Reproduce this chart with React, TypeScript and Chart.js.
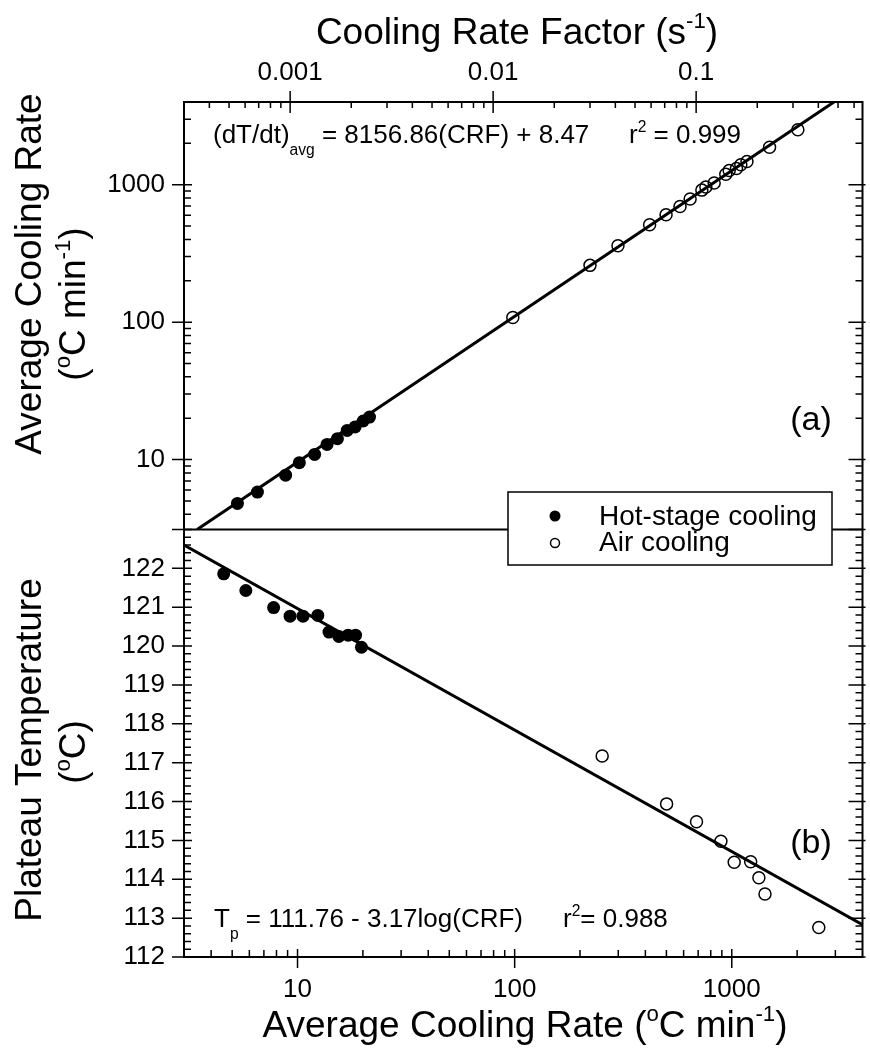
import React, { useEffect, useRef } from 'react';
import { Chart, registerables } from 'chart.js';

Chart.register(...registerables);

const FONT = "'Liberation Sans', Arial, Helvetica, sans-serif";

// ---------- Panel (a): Cooling Rate Factor (s^-1) vs Average Cooling Rate ----------
const hotCRF = [0.00055, 0.00069, 0.00095, 0.00111, 0.00132, 0.00152, 0.00171, 0.00191, 0.00209, 0.00229, 0.00246];
const hotRateA = [4.8, 5.8, 7.7, 9.5, 10.9, 12.9, 14.2, 16.3, 17.3, 19.1, 20.4];
const airCRF = [0.0125, 0.030, 0.0412, 0.059, 0.0711, 0.0833, 0.0934, 0.1067, 0.1117, 0.1227, 0.140, 0.1455, 0.158, 0.166, 0.178, 0.230, 0.317];
const airRateA = [108, 259, 360, 512, 605, 695, 788, 914, 962, 1029, 1192, 1271, 1312, 1399, 1478, 1875, 2514];
const fitACRF = [0.000348, 0.4775];
const fitARate = [3.1, 4000];

// ---------- Panel (b): Average Cooling Rate vs Plateau Temperature ----------
const hotRateB = [4.57, 5.78, 7.76, 9.24, 10.6, 12.4, 13.96, 15.5, 17.1, 18.5, 19.7];
const hotTp = [121.86, 121.43, 120.99, 120.77, 120.77, 120.79, 120.36, 120.25, 120.28, 120.28, 119.97];
const airRateB = [253, 501, 688, 891, 1026, 1222, 1333, 1422, 2516];
const airTp = [117.17, 115.94, 115.48, 114.98, 114.44, 114.45, 114.04, 113.62, 112.76];
const fitBRate = [3, 4000];
const fitBTp = [122.6, 112.83];

// ---------- Axis ticks ----------
const xTicks = [10, 100, 1000];
const x2Ticks = [0.001, 0.01, 0.1];
const x2Labels = ['0.001', '0.01', '0.1'];
const yATicks = [10, 100, 1000];
const yBTicks = [112, 113, 114, 115, 116, 117, 118, 119, 120, 121, 122];

const xRange = [3, 4000];
const x2Range = [0.0003, 0.66];
const yARange = [3.1, 4000];
const yBRange = [112, 123];

type Part = { t: string; k?: 'sup' | 'sub' };
const n = (t: string): Part => ({ t });
const sup = (t: string): Part => ({ t, k: 'sup' });
const sub = (t: string): Part => ({ t, k: 'sub' });

function fontFor(size: number, k?: string) {
  const s = k ? size * 0.6 : size;
  return `${s}px ${FONT}`;
}
function partsWidth(ctx: CanvasRenderingContext2D, parts: Part[], size: number) {
  let w = 0;
  for (const p of parts) {
    ctx.font = fontFor(size, p.k);
    w += ctx.measureText(p.t).width;
  }
  return w;
}
function drawRich(ctx: CanvasRenderingContext2D, parts: Part[], x: number, y: number, size: number, align: 'left' | 'center') {
  const w = partsWidth(ctx, parts, size);
  let cx = align === 'center' ? x - w / 2 : x;
  ctx.textAlign = 'left';
  ctx.textBaseline = 'alphabetic';
  for (const p of parts) {
    ctx.font = fontFor(size, p.k);
    const dy = p.k === 'sup' ? -size * 0.42 : p.k === 'sub' ? size * 0.47 : 0;
    ctx.fillText(p.t, cx, y + dy);
    cx += ctx.measureText(p.t).width;
  }
}
function drawRotated(ctx: CanvasRenderingContext2D, parts: Part[], xc: number, yc: number, size: number) {
  ctx.save();
  ctx.translate(xc, yc);
  ctx.rotate(-Math.PI / 2);
  drawRich(ctx, parts, 0, size * 0.36, size, 'center');
  ctx.restore();
}

function logMarks(min: number, max: number) {
  const out: { v: number; major: boolean }[] = [];
  for (let d = Math.floor(Math.log10(min)); d <= Math.ceil(Math.log10(max)); d++) {
    for (let m = 1; m <= 9; m++) {
      const v = m * Math.pow(10, d);
      if (v > min * 1.0001 && v < max * 0.9999) out.push({ v, major: m === 1 });
    }
  }
  return out;
}
function linMarks(min: number, max: number, step: number, majorEvery: number) {
  const out: { v: number; major: boolean }[] = [];
  const cnt = Math.round((max - min) / step);
  for (let i = 0; i <= cnt; i++) {
    const v = min + i * step;
    out.push({ v, major: i % majorEvery === 0 });
  }
  return out;
}

const decor = {
  id: 'decor',
  afterDraw(chart: any) {
    const ctx: CanvasRenderingContext2D = chart.ctx;
    const ca = chart.chartArea;
    const sx = chart.scales.x;
    const sx2 = chart.scales.x2;
    const sya = chart.scales.yA;
    const syb = chart.scales.yB;
    ctx.save();
    ctx.strokeStyle = '#000';
    ctx.fillStyle = '#000';
    ctx.lineCap = 'butt';

    // frame + divider
    ctx.lineWidth = 2;
    ctx.strokeRect(ca.left, ca.top, ca.right - ca.left, ca.bottom - ca.top);
    const mid = sya.bottom;
    ctx.beginPath();
    ctx.moveTo(ca.left, mid);
    ctx.lineTo(ca.right, mid);
    ctx.stroke();

    ctx.lineWidth = 1.5;
    ctx.beginPath();
    // bottom axis
    for (const m of logMarks(xRange[0], xRange[1])) {
      const px = sx.getPixelForValue(m.v);
      if (m.major) { ctx.moveTo(px, ca.bottom + 11); ctx.lineTo(px, ca.bottom - 8); }
      else { ctx.moveTo(px, ca.bottom); ctx.lineTo(px, ca.bottom - 7); }
    }
    // top axis
    for (const m of logMarks(x2Range[0], x2Range[1])) {
      const px = sx2.getPixelForValue(m.v);
      if (m.major) { ctx.moveTo(px, ca.top - 11); ctx.lineTo(px, ca.top + 11); }
      else { ctx.moveTo(px, ca.top); ctx.lineTo(px, ca.top + 6); }
    }
    // left/right of panel (a)
    for (const m of logMarks(yARange[0], yARange[1])) {
      const py = sya.getPixelForValue(m.v);
      if (m.major) {
        ctx.moveTo(ca.left - 12, py); ctx.lineTo(ca.left + 8, py);
        ctx.moveTo(ca.right - 14, py); ctx.lineTo(ca.right + 3, py);
      } else {
        ctx.moveTo(ca.left, py); ctx.lineTo(ca.left + 7, py);
        ctx.moveTo(ca.right - 7, py); ctx.lineTo(ca.right, py);
      }
    }
    // left/right of panel (b)
    for (const m of linMarks(yBRange[0], yBRange[1], 0.2, 5)) {
      const py = syb.getPixelForValue(m.v);
      if (m.major) {
        ctx.moveTo(ca.left - 12, py); ctx.lineTo(ca.left + 8, py);
        ctx.moveTo(ca.right - 14, py); ctx.lineTo(ca.right + 3, py);
      } else {
        ctx.moveTo(ca.left, py); ctx.lineTo(ca.left + 7, py);
        ctx.moveTo(ca.right - 7, py); ctx.lineTo(ca.right, py);
      }
    }
    ctx.stroke();

    // axis titles
    drawRich(ctx, [n('Cooling Rate Factor (s'), sup('-1'), n(')')], 517, 44, 37, 'center');
    drawRich(ctx, [n('Average Cooling Rate ('), sup('o'), n('C min'), sup('-1'), n(')')], 525, 1037, 37, 'center');
    drawRotated(ctx, [n('Average Cooling Rate')], 28, 274, 37);
    drawRotated(ctx, [n('('), sup('o'), n('C min'), sup('-1'), n(')')], 72, 304, 37);
    drawRotated(ctx, [n('Plateau Temperature')], 28, 750, 37);
    drawRotated(ctx, [n('('), sup('o'), n('C)')], 72, 752, 37);

    // annotations
    drawRich(ctx, [n('(dT/dt)'), sub('avg'), n(' = 8156.86(CRF) + 8.47')], 213, 143, 26, 'left');
    drawRich(ctx, [n('r'), sup('2'), n(' = 0.999')], 629, 143, 26, 'left');
    drawRich(ctx, [n('T'), sub('p'), n(' = 111.76 - 3.17log(CRF)')], 214, 927, 26, 'left');
    drawRich(ctx, [n('r'), sup('2'), n('= 0.988')], 563, 927, 26, 'left');
    ctx.font = `34px ${FONT}`;
    ctx.textAlign = 'center';
    ctx.textBaseline = 'middle';
    ctx.fillText('(a)', 811, 421);
    ctx.fillText('(b)', 811, 844);

    // legend
    const lx = 508, ly = 492, lw = 324, lh = 73;
    ctx.fillStyle = '#fff';
    ctx.fillRect(lx, ly, lw, lh);
    ctx.lineWidth = 1.5;
    ctx.strokeRect(lx, ly, lw, lh);
    ctx.fillStyle = '#000';
    ctx.beginPath();
    ctx.arc(555, 516, 5.5, 0, Math.PI * 2);
    ctx.fill();
    ctx.beginPath();
    ctx.arc(555, 543, 4.5, 0, Math.PI * 2);
    ctx.stroke();
    ctx.font = `28px ${FONT}`;
    ctx.textAlign = 'left';
    ctx.textBaseline = 'alphabetic';
    ctx.fillText('Hot-stage cooling', 599, 525);
    ctx.fillText('Air cooling', 599, 551);
    ctx.restore();
  },
};

const tickFont = { size: 26, family: FONT };

export default function App() {
  const ref = useRef<HTMLCanvasElement | null>(null);
  useEffect(() => {
    document.body.style.margin = '0';
    document.body.style.overflow = 'hidden';
    const canvas = ref.current;
    if (!canvas) return;
    const pts = (xs: number[], ys: number[]) => xs.map((x, i) => ({ x, y: ys[i] }));
    const chart = new Chart(canvas, {
      type: 'scatter',
      data: {
        datasets: [
          { label: 'Hot-stage cooling', data: pts(hotCRF, hotRateA), xAxisID: 'x2', yAxisID: 'yA', pointRadius: 6.5, pointBackgroundColor: '#000', pointBorderColor: '#000', pointBorderWidth: 0 },
          { label: 'Air cooling', data: pts(airCRF, airRateA), xAxisID: 'x2', yAxisID: 'yA', pointRadius: 6, pointBackgroundColor: 'rgba(0,0,0,0)', pointBorderColor: '#000', pointBorderWidth: 1.5 },
          { label: 'Hot-stage cooling (b)', data: pts(hotRateB, hotTp), xAxisID: 'x', yAxisID: 'yB', pointRadius: 6.5, pointBackgroundColor: '#000', pointBorderColor: '#000', pointBorderWidth: 0 },
          { label: 'Air cooling (b)', data: pts(airRateB, airTp), xAxisID: 'x', yAxisID: 'yB', pointRadius: 6, pointBackgroundColor: 'rgba(0,0,0,0)', pointBorderColor: '#000', pointBorderWidth: 1.5 },
          { label: 'Fit (a)', data: pts(fitACRF, fitARate), xAxisID: 'x2', yAxisID: 'yA', showLine: true, borderColor: '#000', borderWidth: 3, pointRadius: 0 },
          { label: 'Fit (b)', data: pts(fitBRate, fitBTp), xAxisID: 'x', yAxisID: 'yB', showLine: true, borderColor: '#000', borderWidth: 3, pointRadius: 0 },
        ],
      },
      options: {
        responsive: false,
        animation: false,
        devicePixelRatio: 1,
        events: [],
        layout: { padding: { left: 0, right: 3, top: 0, bottom: 0 } },
        plugins: { legend: { display: false }, tooltip: { enabled: false } },
        scales: {
          x: {
            type: 'logarithmic', position: 'bottom', min: xRange[0], max: xRange[1],
            afterBuildTicks: (s: any) => { s.ticks = xTicks.map((v) => ({ value: v })); },
            afterFit: (s: any) => { s.height = 91; },
            grid: { display: false, drawTicks: false }, border: { display: false },
            ticks: { autoSkip: false, maxRotation: 0, padding: 17, color: '#000', font: tickFont, callback: (v: any) => String(v) },
          },
          x2: {
            type: 'logarithmic', position: 'top', min: x2Range[0], max: x2Range[1],
            afterBuildTicks: (s: any) => { s.ticks = x2Ticks.map((v) => ({ value: v })); },
            afterFit: (s: any) => { s.height = 102; },
            grid: { display: false, drawTicks: false }, border: { display: false },
            ticks: { autoSkip: false, maxRotation: 0, padding: 14, color: '#000', font: tickFont, callback: (_v: any, i: number) => x2Labels[i] },
          },
          yB: {
            type: 'linear', position: 'left', stack: 'left', stackWeight: 1, min: yBRange[0], max: yBRange[1],
            afterBuildTicks: (s: any) => { s.ticks = yBTicks.map((v) => ({ value: v })); },
            afterFit: (s: any) => { s.width = 184; },
            grid: { display: false, drawTicks: false }, border: { display: false },
            ticks: { autoSkip: false, padding: 19, color: '#000', font: tickFont, callback: (v: any) => String(v) },
          },
          yA: {
            type: 'logarithmic', position: 'left', stack: 'left', stackWeight: 1, min: yARange[0], max: yARange[1],
            afterBuildTicks: (s: any) => { s.ticks = yATicks.map((v) => ({ value: v })); },
            afterFit: (s: any) => { s.width = 184; },
            grid: { display: false, drawTicks: false }, border: { display: false },
            ticks: { autoSkip: false, padding: 19, color: '#000', font: tickFont, callback: (v: any) => String(v) },
          },
        },
      } as any,
      plugins: [decor],
    });
    return () => chart.destroy();
  }, []);
  return (
    <div style={{ width: 870, height: 1048, background: '#fff' }}>
      <canvas ref={ref} width={870} height={1048} style={{ display: 'block' }} />
    </div>
  );
}
